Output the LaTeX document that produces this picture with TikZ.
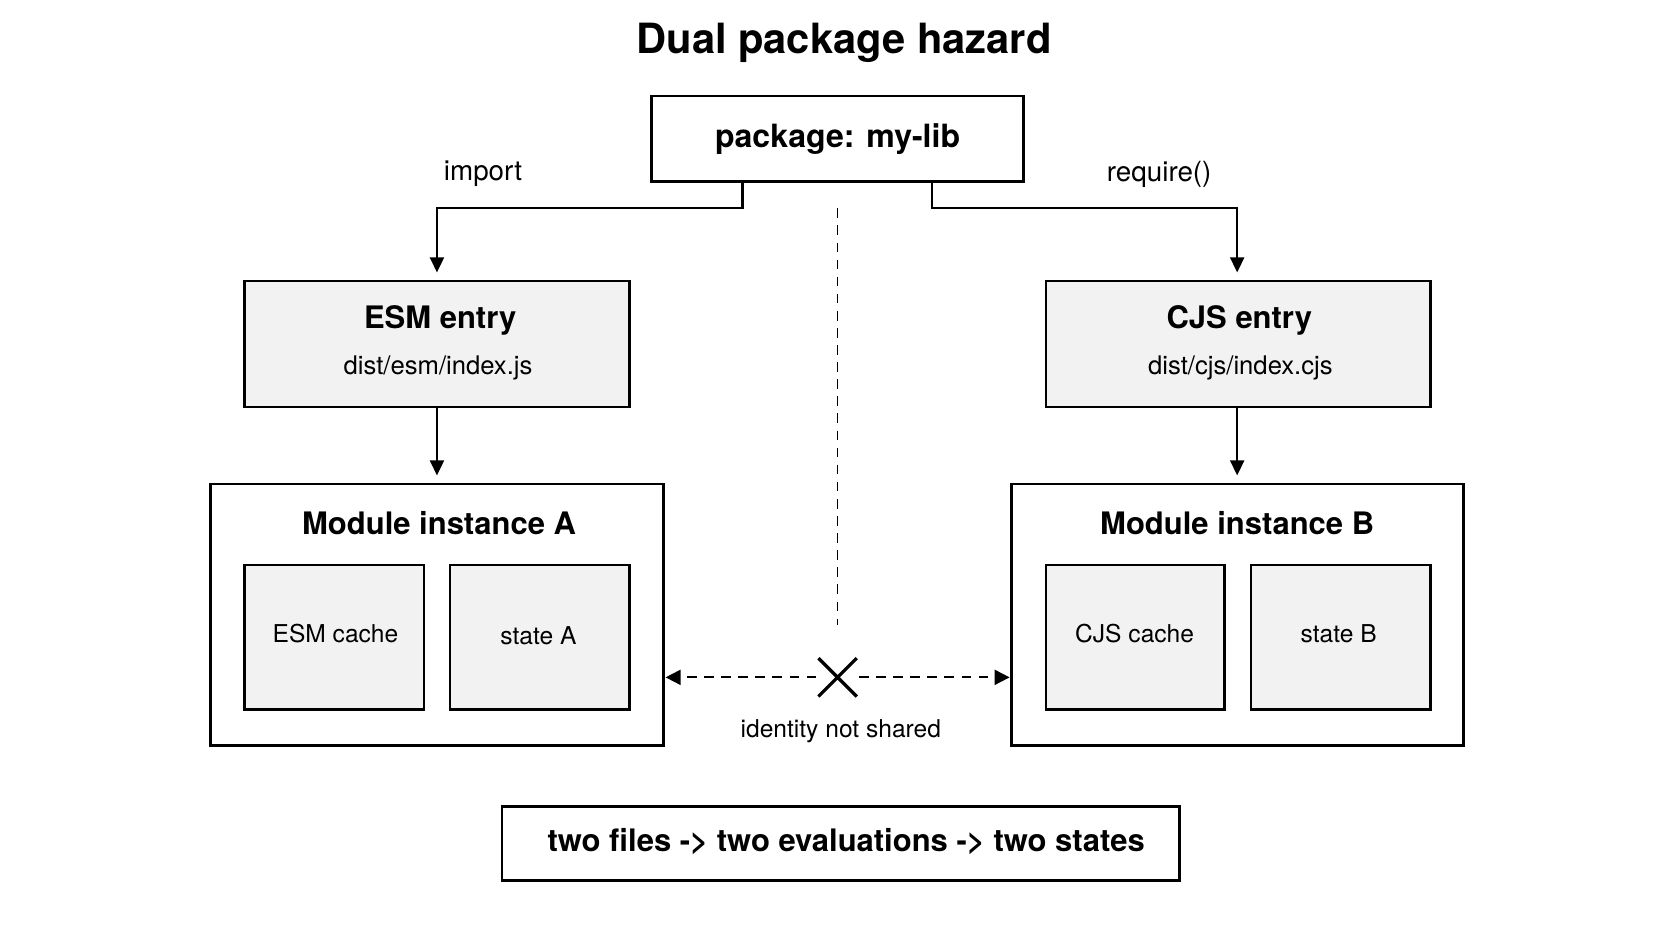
\documentclass[tikz,border=0pt]{standalone}
\usepackage{fontspec}
\setmainfont{TeX Gyre Heros}
\usetikzlibrary{arrows.meta}
\definecolor{boxgray}{HTML}{F2F2F2}
\begin{document}
\begin{tikzpicture}[x=1pt,y=-1pt,
  box/.style={draw=black,line width=2.4pt,inner sep=0pt},
  gbox/.style={box,fill=boxgray},
  arr/.style={line width=2pt,-{Triangle[length=14pt,width=13pt]}},
  fs/.style={font=\fontsize{#1}{#1}\selectfont}]
\useasboundingbox[fill=white] (0,0) rectangle (1565,881);
\node[fs=39,font=\fontsize{39}{39}\selectfont\bfseries] (title) at (790,40) {Dual package hazard};
\draw[box] (610,90) rectangle (958,170);
\node[fs=30] (pkg) at (784,130) {\fontsize{30}{30}\selectfont\bfseries package: my-lib};
\coordinate (pl) at (695,170); \coordinate (pr) at (872,170);
\draw[gbox] (229,263) rectangle (589,381); \coordinate (esmT) at (409,255); \coordinate (esmB) at (409,381);
\draw[gbox] (979,263) rectangle (1339,381); \coordinate (cjsT) at (1158,255); \coordinate (cjsB) at (1158,381);
\node (esm1) at (412,300) {\fontsize{29}{29}\selectfont\bfseries ESM entry};
\node (esm2) at (410,344) {\fontsize{24}{24}\selectfont dist/esm/index.js};
\node (cjs1) at (1160,300) {\fontsize{29}{29}\selectfont\bfseries CJS entry};
\node (cjs2) at (1161,344) {\fontsize{24}{24}\selectfont dist/cjs/index.cjs};
\node (imp) at (452,163) {\fontsize{26}{26}\selectfont import};
\node (req) at (1085,163) {\fontsize{26}{26}\selectfont require()};
\draw[arr] (pl) -- (695,195) -- (409,195) -- (esmT);
\draw[arr] (pr) -- (872,195) -- (1158,195) -- (cjsT);
\draw[box] (197,453) rectangle (621,698);
\draw[box] (947,453) rectangle (1370,698);
\coordinate (mAT) at (409,445); \coordinate (mBT) at (1158,445);
\draw[arr] (esmB) -- (mAT);
\draw[arr] (cjsB) -- (mBT);
\node (mA) at (411,490) {\fontsize{29}{29}\selectfont\bfseries Module instance A};
\node (mB) at (1158,490) {\fontsize{29}{29}\selectfont\bfseries Module instance B};
\draw[gbox] (229,529) rectangle (397,664); \node (ec) at (314,593) {\fontsize{23}{23}\selectfont ESM cache};
\draw[gbox] (421,529) rectangle (589,664); \node (sa) at (504,595) {\fontsize{23}{23}\selectfont state A};
\draw[gbox] (979,529) rectangle (1146,664); \node (cc) at (1062,593) {\fontsize{23}{23}\selectfont CJS cache};
\draw[gbox] (1171,529) rectangle (1339,664); \node (sb) at (1253,593) {\fontsize{23}{23}\selectfont state B};
\coordinate (vt) at (784,195); \coordinate (vb) at (784,585);
\draw[line width=1.6pt,dash pattern=on 9pt off 7pt] (vt) -- (vb);
\coordinate (X) at (784,634);
\draw[line width=3pt] (766,616) -- (802,652) (802,616) -- (766,652);
\coordinate (aL) at (623,634); \coordinate (aR) at (945,634);
\draw[line width=1.8pt,dash pattern=on 9pt off 7pt,-{Triangle[length=14pt,width=14pt]}] (764,634) -- (aL);
\draw[line width=1.8pt,dash pattern=on 9pt off 7pt,-{Triangle[length=14pt,width=14pt]}] (804,634) -- (aR);
\node (ins) at (787,684) {\fontsize{23}{23}\selectfont identity not shared};
\draw[box] (470,755) rectangle (1104,824);
\node (bot) at (792,788) {\fontsize{29}{29}\selectfont\bfseries two files -> two evaluations -> two states};
\end{tikzpicture}
\end{document}
